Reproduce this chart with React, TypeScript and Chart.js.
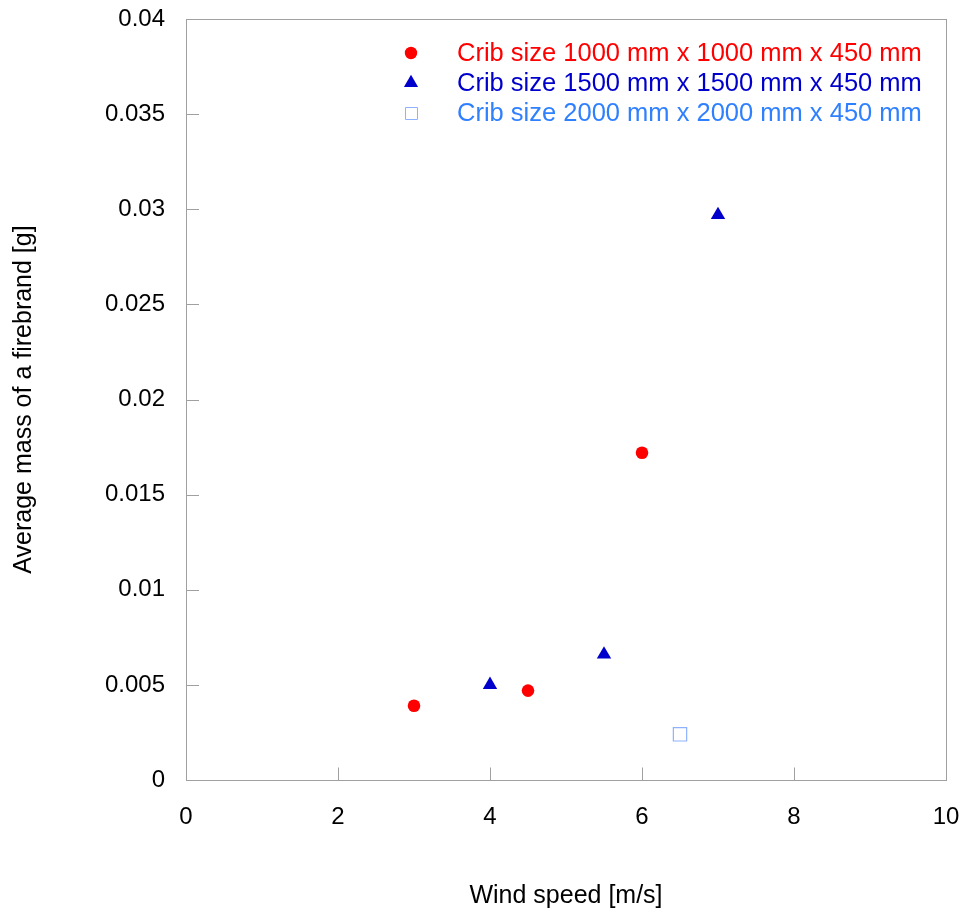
import { useEffect, useRef } from "react";
import { Chart, registerables } from "chart.js";

Chart.register(...registerables);

const windSpeed1000 = [3, 4.5, 6];
const mass1000 = [0.0039, 0.0047, 0.0172];
const windSpeed1500 = [4, 5.5, 7];
const mass1500 = [0.005, 0.0066, 0.0297];
const windSpeed2000 = [6.5];
const mass2000 = [0.0024];

const seriesLabels = [
  "Crib size 1000 mm x 1000 mm x 450 mm",
  "Crib size 1500 mm x 1500 mm x 450 mm",
  "Crib size 2000 mm x 2000 mm x 450 mm",
];

const xTicks = [0, 2, 4, 6, 8, 10];
const xTickLabels = ["0", "2", "4", "6", "8", "10"];
const yTicks = [0, 0.005, 0.01, 0.015, 0.02, 0.025, 0.03, 0.035, 0.04];
const yTickLabels = ["0", "0.005", "0.01", "0.015", "0.02", "0.025", "0.03", "0.035", "0.04"];

const xTitle = "Wind speed [m/s]";
const yTitle = "Average mass of a firebrand [g]";

const FONT = "'Liberation Sans', Arial, Helvetica, sans-serif";
const RED = "#ff0000";
const DARK_BLUE = "#0000cc";
const LIGHT_BLUE_TEXT = "#2f80ff";
const LIGHT_BLUE_MARK = "#8fb2ff";
const FRAME = "#a0a0a0";

function pts(xs: number[], ys: number[]) {
  return xs.map((x, i) => ({ x, y: ys[i] }));
}

const framePlugin = {
  id: "frameAndTicks",
  beforeDatasetsDraw(chart: any) {
    const { ctx, chartArea: a, scales } = chart;
    ctx.save();
    ctx.strokeStyle = FRAME;
    ctx.lineWidth = 1;
    ctx.strokeRect(a.left + 0.5, a.top + 0.5, a.right - a.left, a.bottom - a.top);
    ctx.beginPath();
    for (const v of yTicks) {
      const py = Math.round(scales.y.getPixelForValue(v)) + 0.5;
      ctx.moveTo(a.left, py);
      ctx.lineTo(a.left + 13, py);
    }
    for (const v of xTicks) {
      const px = Math.round(scales.x.getPixelForValue(v)) + 0.5;
      ctx.moveTo(px, a.bottom + 0.5);
      ctx.lineTo(px, a.bottom - 12.5);
    }
    ctx.stroke();
    ctx.restore();
  },
  afterDraw(chart: any) {
    const { ctx } = chart;
    const markX = 411;
    const textX = 457;
    const rows = [53, 83, 113];
    const colors = [RED, DARK_BLUE, LIGHT_BLUE_TEXT];
    ctx.save();
    ctx.fillStyle = RED;
    ctx.beginPath();
    ctx.arc(markX, rows[0], 6.2, 0, Math.PI * 2);
    ctx.fill();
    const r = 8.2;
    const ty = rows[1];
    ctx.fillStyle = DARK_BLUE;
    ctx.beginPath();
    ctx.moveTo(markX, ty - r);
    ctx.lineTo(markX + r * Math.sin((2 * Math.PI) / 3), ty + r / 2);
    ctx.lineTo(markX - r * Math.sin((2 * Math.PI) / 3), ty + r / 2);
    ctx.closePath();
    ctx.fill();
    ctx.fillStyle = "#ffffff";
    ctx.strokeStyle = LIGHT_BLUE_MARK;
    ctx.lineWidth = 1;
    ctx.beginPath();
    ctx.rect(markX - 6 + 0.5, rows[2] - 6 + 0.5, 12, 12);
    ctx.fill();
    ctx.stroke();
    ctx.font = `25.5px ${FONT}`;
    ctx.textBaseline = "middle";
    ctx.textAlign = "left";
    seriesLabels.forEach((t, i) => {
      ctx.fillStyle = colors[i];
      ctx.fillText(t, textX, rows[i] + 1);
    });
    ctx.restore();
  },
};

export default function App() {
  const ref = useRef<HTMLCanvasElement | null>(null);

  useEffect(() => {
    if (!ref.current) return;
    const chart = new Chart(ref.current, {
      type: "scatter",
      data: {
        datasets: [
          {
            label: seriesLabels[0],
            data: pts(windSpeed1000, mass1000),
            pointStyle: "circle",
            pointRadius: 6.3,
            backgroundColor: RED,
            borderColor: RED,
            borderWidth: 0,
          },
          {
            label: seriesLabels[1],
            data: pts(windSpeed1500, mass1500),
            pointStyle: "triangle",
            pointRadius: 8.3,
            backgroundColor: DARK_BLUE,
            borderColor: DARK_BLUE,
            borderWidth: 0,
          },
          {
            label: seriesLabels[2],
            data: pts(windSpeed2000, mass2000),
            pointStyle: "rect",
            pointRadius: 9.4,
            backgroundColor: "#ffffff",
            borderColor: LIGHT_BLUE_MARK,
            borderWidth: 1.2,
          },
        ],
      },
      options: {
        responsive: false,
        animation: false,
        layout: { padding: { top: 19, right: 22, bottom: 0, left: 0 } },
        plugins: {
          legend: { display: false },
          tooltip: { enabled: false },
        },
        scales: {
          x: {
            type: "linear",
            min: 0,
            max: 10,
            afterFit: (s: any) => {
              s.height = 136;
              s.paddingLeft = 0;
              s.paddingRight = 0;
              s.paddingTop = 0;
              s.paddingBottom = 0;
            },
            afterBuildTicks: (s: any) => {
              s.ticks = xTicks.map((v) => ({ value: v }));
            },
            grid: { display: false, drawTicks: false },
            border: { display: false },
            ticks: {
              padding: 23,
              color: "#000000",
              font: { family: FONT, size: 24 },
              callback: (_v: any, i: number) => xTickLabels[i],
              maxRotation: 0,
            },
            title: {
              display: true,
              text: xTitle,
              color: "#000000",
              font: { family: FONT, size: 25 },
              padding: { top: 0, bottom: 5 },
            },
          },
          y: {
            type: "linear",
            min: 0,
            max: 0.04,
            afterFit: (s: any) => {
              s.width = 186;
              s.paddingLeft = 0;
              s.paddingRight = 0;
              s.paddingTop = 0;
              s.paddingBottom = 0;
            },
            afterBuildTicks: (s: any) => {
              s.ticks = yTicks.map((v) => ({ value: v }));
            },
            grid: { display: false, drawTicks: false },
            border: { display: false },
            ticks: {
              padding: 21,
              color: "#000000",
              font: { family: FONT, size: 24 },
              callback: (_v: any, i: number) => yTickLabels[i],
            },
            title: {
              display: true,
              text: yTitle,
              color: "#000000",
              font: { family: FONT, size: 25 },
              padding: { top: 9, bottom: 0 },
            },
          },
        },
      },
      plugins: [framePlugin],
    });
    return () => chart.destroy();
  }, []);

  return (
    <div style={{ position: "absolute", left: 0, top: 0, width: 968, height: 916, background: "#ffffff" }}>
      <canvas ref={ref} width={968} height={916} style={{ display: "block" }} />
    </div>
  );
}
